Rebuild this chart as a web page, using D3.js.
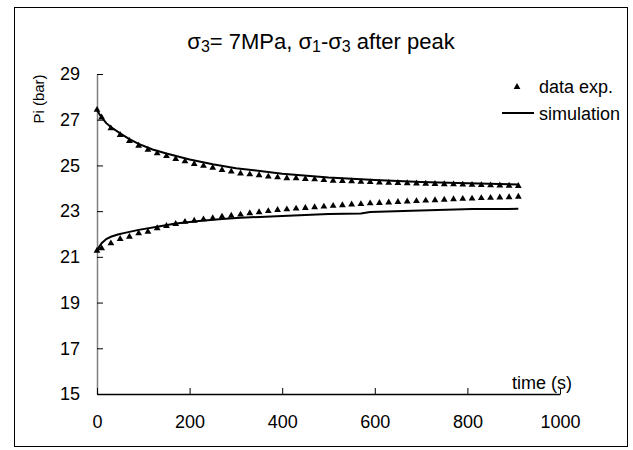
<!DOCTYPE html>
<html>
<head>
<meta charset="utf-8">
<script src="https://cdn.jsdelivr.net/npm/d3@7"></script>
<style>
  body { margin: 0; background: #fff; }
  svg { font-family: "Liberation Sans", Arial, sans-serif; }
</style>
</head>
<body>
<svg id="chart" width="633" height="450"></svg>
<script>
/*************************************/
/*            Chart data             */
/*************************************/
const expTime = [0, 10, 30, 50, 70, 90, 110, 130, 150, 170, 190, 210, 230, 250, 270, 290,
  310, 330, 350, 370, 390, 410, 430, 450, 470, 490, 510, 530, 550, 570, 590, 610, 630,
  650, 670, 690, 710, 730, 750, 770, 790, 810, 830, 850, 870, 890, 910];

const expUpper = [27.43, 27.1, 26.62, 26.33, 26.07, 25.86, 25.68, 25.53, 25.41, 25.28,
  25.18, 25.06, 24.98, 24.9, 24.8, 24.73, 24.65, 24.61, 24.57, 24.51, 24.48, 24.44, 24.44,
  24.41, 24.39, 24.36, 24.33, 24.32, 24.31, 24.28, 24.27, 24.25, 24.24, 24.23, 24.22,
  24.21, 24.2, 24.19, 24.18, 24.17, 24.16, 24.15, 24.14, 24.13, 24.12, 24.11, 24.1];

const expLower = [21.27, 21.37, 21.59, 21.78, 21.88, 22.03, 22.1, 22.25, 22.35, 22.44,
  22.53, 22.58, 22.64, 22.69, 22.76, 22.8, 22.85, 22.91, 22.95, 23.0, 23.05, 23.08, 23.11,
  23.14, 23.17, 23.2, 23.23, 23.26, 23.29, 23.31, 23.34, 23.36, 23.38, 23.4, 23.42, 23.44,
  23.46, 23.48, 23.5, 23.52, 23.54, 23.55, 23.57, 23.58, 23.6, 23.61, 23.63];

const simUpperTime = [0, 5, 10, 20, 30, 50, 70, 90, 120, 150, 200, 250, 300, 400, 500, 600, 700, 800, 910];
const simUpper = [27.45, 27.25, 27.1, 26.85, 26.68, 26.4, 26.15, 25.94, 25.7, 25.52,
  25.26, 25.05, 24.88, 24.64, 24.47, 24.36, 24.28, 24.22, 24.17];

const simLowerTime = [0, 5, 10, 20, 30, 45, 60, 90, 130, 170, 220, 270, 310, 400, 500, 570, 590, 680, 810, 910];
const simLower = [21.27, 21.45, 21.6, 21.78, 21.88, 21.98, 22.05, 22.18, 22.32, 22.46,
  22.57, 22.66, 22.71, 22.79, 22.87, 22.9, 22.96, 23.02, 23.09, 23.1];

const xTicks = [0, 200, 400, 600, 800, 1000];
const yTicks = [15, 17, 19, 21, 23, 25, 27, 29];

/*************************************/
/*          Scales and frame         */
/*************************************/
const svg = d3.select("#chart");

const xScale = d3.scaleLinear().domain([0, 1000]).range([97, 560]);
const yScale = d3.scaleLinear().domain([15, 29]).range([394, 74]);

svg.append("rect")
  .attr("x", 14.5).attr("y", 7.5)
  .attr("width", 613).attr("height", 439)
  .attr("fill", "white")
  .attr("stroke", "black");

/*************************************/
/*               Axes                */
/*************************************/
const yAxis = svg.append("g")
  .attr("transform", "translate(97,0)")
  .call(d3.axisLeft(yScale).tickValues(yTicks).tickSizeInner(-6).tickSizeOuter(0).tickPadding(17));

yAxis.select(".domain").attr("stroke", "#808080").attr("stroke-width", 1.5);
yAxis.selectAll("text").attr("font-size", 18).attr("fill", "black");

const xAxis = svg.append("g")
  .attr("transform", "translate(0,394)")
  .call(d3.axisBottom(xScale).tickValues(xTicks).tickFormat(d3.format("d"))
    .tickSizeInner(-6).tickSizeOuter(0).tickPadding(21));

xAxis.select(".domain").attr("stroke", "black").attr("stroke-width", 1.5);
xAxis.selectAll("text").attr("font-size", 18).attr("fill", "black");

/*************************************/
/*           Series marks            */
/*************************************/
const line = d3.line()
  .x(d => xScale(d[0]))
  .y(d => yScale(d[1]));

[[simUpperTime, simUpper], [simLowerTime, simLower]].forEach(([ts, vs]) => {
  svg.append("path")
    .attr("d", line(ts.map((t, i) => [t, vs[i]])))
    .attr("fill", "none")
    .attr("stroke", "black")
    .attr("stroke-width", 2);
});

const tri = d3.symbol().type(d3.symbolTriangle).size(20);

[expUpper, expLower].forEach(vals => {
  svg.append("g").selectAll("path")
    .data(expTime.map((t, i) => [t, vals[i]]))
    .join("path")
      .attr("d", tri)
      .attr("transform", d => `translate(${xScale(d[0])},${yScale(d[1])})`)
      .attr("fill", "black");
});

/*************************************/
/*        Title, labels, legend      */
/*************************************/
const title = svg.append("text")
  .attr("x", 321).attr("y", 49)
  .attr("text-anchor", "middle")
  .attr("font-size", 22);

// [text, is subscript]
const titleParts = [["σ", false], ["3", true], ["= 7MPa, σ", false], ["1", true],
  ["-σ", false], ["3", true], [" after peak", false]];

let shifted = false;
titleParts.forEach(([s, sub]) => {
  title.append("tspan")
    .attr("font-size", sub ? 16 : 22)
    .attr("dy", sub ? 3 : (shifted ? -3 : null))
    .text(s);
  shifted = sub;
});

svg.append("text")
  .attr("transform", "translate(44,99) rotate(-90)")
  .attr("text-anchor", "middle")
  .attr("font-size", 15)
  .text("Pi (bar)");

svg.append("text")
  .attr("x", 572).attr("y", 389)
  .attr("text-anchor", "end")
  .attr("font-size", 18)
  .text("time (s)");

svg.append("path")
  .attr("d", tri)
  .attr("transform", "translate(517,87)")
  .attr("fill", "black");

svg.append("text")
  .attr("x", 539).attr("y", 93)
  .attr("font-size", 18)
  .text("data exp.");

svg.append("line")
  .attr("x1", 502).attr("x2", 534)
  .attr("y1", 113).attr("y2", 113)
  .attr("stroke", "black")
  .attr("stroke-width", 2);

svg.append("text")
  .attr("x", 539).attr("y", 119.5)
  .attr("font-size", 18)
  .text("simulation");
</script>
</body>
</html>
